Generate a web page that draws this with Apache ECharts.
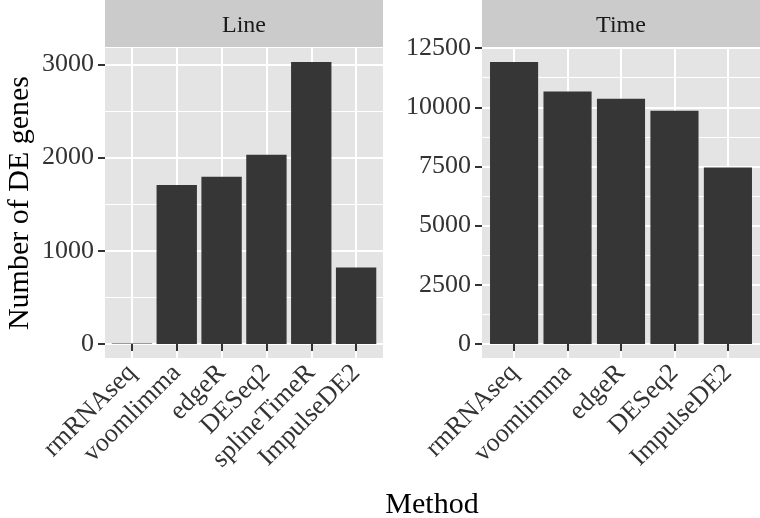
<!DOCTYPE html>
<html>
<head>
<meta charset="utf-8">
<script src="https://cdn.jsdelivr.net/npm/echarts@6/dist/echarts.min.js"></script>
<style>html,body{margin:0;padding:0;background:#fff;}#c{width:760px;height:518px;}</style>
</head>
<body>
<div id="c"></div>
<script>
// ---- data ----
const lineCategories = ['rmRNAseq', 'voomlimma', 'edgeR', 'DESeq2', 'splineTimeR', 'ImpulseDE2'];
const lineValues = [5, 1705, 1795, 2030, 3025, 820];
const timeCategories = ['rmRNAseq', 'voomlimma', 'edgeR', 'DESeq2', 'ImpulseDE2'];
const timeValues = [11910, 10670, 10360, 9850, 7450];
const lineMajorTicks = [0, 1000, 2000, 3000];
const lineMinorTicks = [500, 1500, 2500];
const timeMajorTicks = [0, 2500, 5000, 7500, 10000, 12500];
const timeMinorTicks = [1250, 3750, 6250, 8750, 11250];
const panelTitles = ['Line', 'Time'];

// ggplot-like expansion of y range (5%)
function yRange(vals) { const mx = Math.max(...vals); return [-0.05 * mx, mx * 1.05]; }
const lineRange = yRange(lineValues);
const timeRange = yRange(timeValues);

const FONT = 'Liberation Serif';
const PANEL_BG = '#E4E4E4';
const STRIP_BG = '#CBCBCB';
const TOP = 48, HEIGHT = 310;

function panel(left, width, n) {
  const unit = width / (n + 0.2);
  return {
    outer: { left: left, top: TOP, width: width, height: HEIGHT, show: true, backgroundColor: PANEL_BG, borderWidth: 0, z: 0 },
    inner: { left: left + 0.1 * unit, top: TOP, width: n * unit, height: HEIGHT, show: false, z: 0 }
  };
}
const pL = panel(105, 278, lineCategories.length);
const pR = panel(482, 278, timeCategories.length);

function majorY(grid, range, ticks, name) {
  return {
    type: 'value', gridIndex: grid, min: range[0], max: range[1], z: 1,
    name: name || '', nameLocation: 'middle', nameGap: 70, nameRotate: 90,
    nameTextStyle: { fontFamily: FONT, fontSize: 30, color: '#000' },
    axisLine: { show: false },
    axisTick: { show: true, length: 7, customValues: ticks, lineStyle: { color: '#333', width: 2 } },
    axisLabel: { show: true, customValues: ticks, fontFamily: FONT, fontSize: 26, color: '#333', margin: 11, formatter: v => String(v) },
    splitLine: { show: true, lineStyle: { color: '#FFFFFF', width: 2 } }
  };
}
function minorY(grid, range, ticks) {
  return {
    type: 'value', gridIndex: grid, min: range[0], max: range[1], position: 'right', z: 1,
    axisLine: { show: false },
    axisTick: { show: false, customValues: ticks },
    axisLabel: { show: false, customValues: ticks },
    splitLine: { show: true, lineStyle: { color: '#FFFFFF', width: 1 } }
  };
}
function hiddenY(grid, range) {
  return { type: 'value', gridIndex: grid, min: range[0], max: range[1], show: false, splitLine: { show: false } };
}
function catX(grid, cats) {
  return {
    type: 'category', gridIndex: grid, data: cats, z: 1,
    axisLine: { show: false },
    axisTick: { show: true, alignWithLabel: true, length: 7, lineStyle: { color: '#333', width: 2 } },
    axisLabel: { interval: 0, rotate: 45, fontFamily: FONT, fontSize: 26, color: '#333', margin: 11 },
    splitLine: { show: true, alignWithLabel: true, lineStyle: { color: '#FFFFFF', width: 2 } }
  };
}
function dummyX(grid) { return { type: 'value', gridIndex: grid, min: 0, max: 1, show: false, splitLine: { show: false } }; }

function strip(p, text) {
  const g = p.outer;
  return [
    { type: 'rect', x: g.left, y: 0, shape: { x: 0, y: 0, width: g.width, height: TOP - 1 }, style: { fill: STRIP_BG }, z: 0 },
    { type: 'text', x: g.left + g.width / 2, y: 26, style: { text: text, font: '24px ' + FONT, fill: '#1A1A1A', align: 'center', verticalAlign: 'middle' }, z: 1 }
  ];
}

const option = {
  animation: false,
  backgroundColor: '#FFFFFF',
  grid: [pL.outer, pL.inner, pR.outer, pR.inner],
  xAxis: [dummyX(0), catX(1, lineCategories), dummyX(2), catX(3, timeCategories)],
  yAxis: [
    majorY(0, lineRange, lineMajorTicks, 'Number of DE genes'),
    minorY(0, lineRange, lineMinorTicks),
    hiddenY(1, lineRange),
    majorY(2, timeRange, timeMajorTicks),
    minorY(2, timeRange, timeMinorTicks),
    hiddenY(3, timeRange)
  ],
  graphic: [
    ...strip(pL, panelTitles[0]),
    ...strip(pR, panelTitles[1]),
    { type: 'text', x: 432, y: 505, style: { text: 'Method', font: '30px ' + FONT, fill: '#000', align: 'center', verticalAlign: 'middle' } }
  ],
  series: [
    { type: 'bar', xAxisIndex: 1, yAxisIndex: 2, data: lineValues, barWidth: '90%', itemStyle: { color: '#363636' }, z: 2 },
    { type: 'bar', xAxisIndex: 3, yAxisIndex: 5, data: timeValues, barWidth: '90%', itemStyle: { color: '#363636' }, z: 2 }
  ]
};
const chart = echarts.init(document.getElementById('c'), null, { renderer: 'canvas' });
chart.setOption(option);
</script>
</body>
</html>
